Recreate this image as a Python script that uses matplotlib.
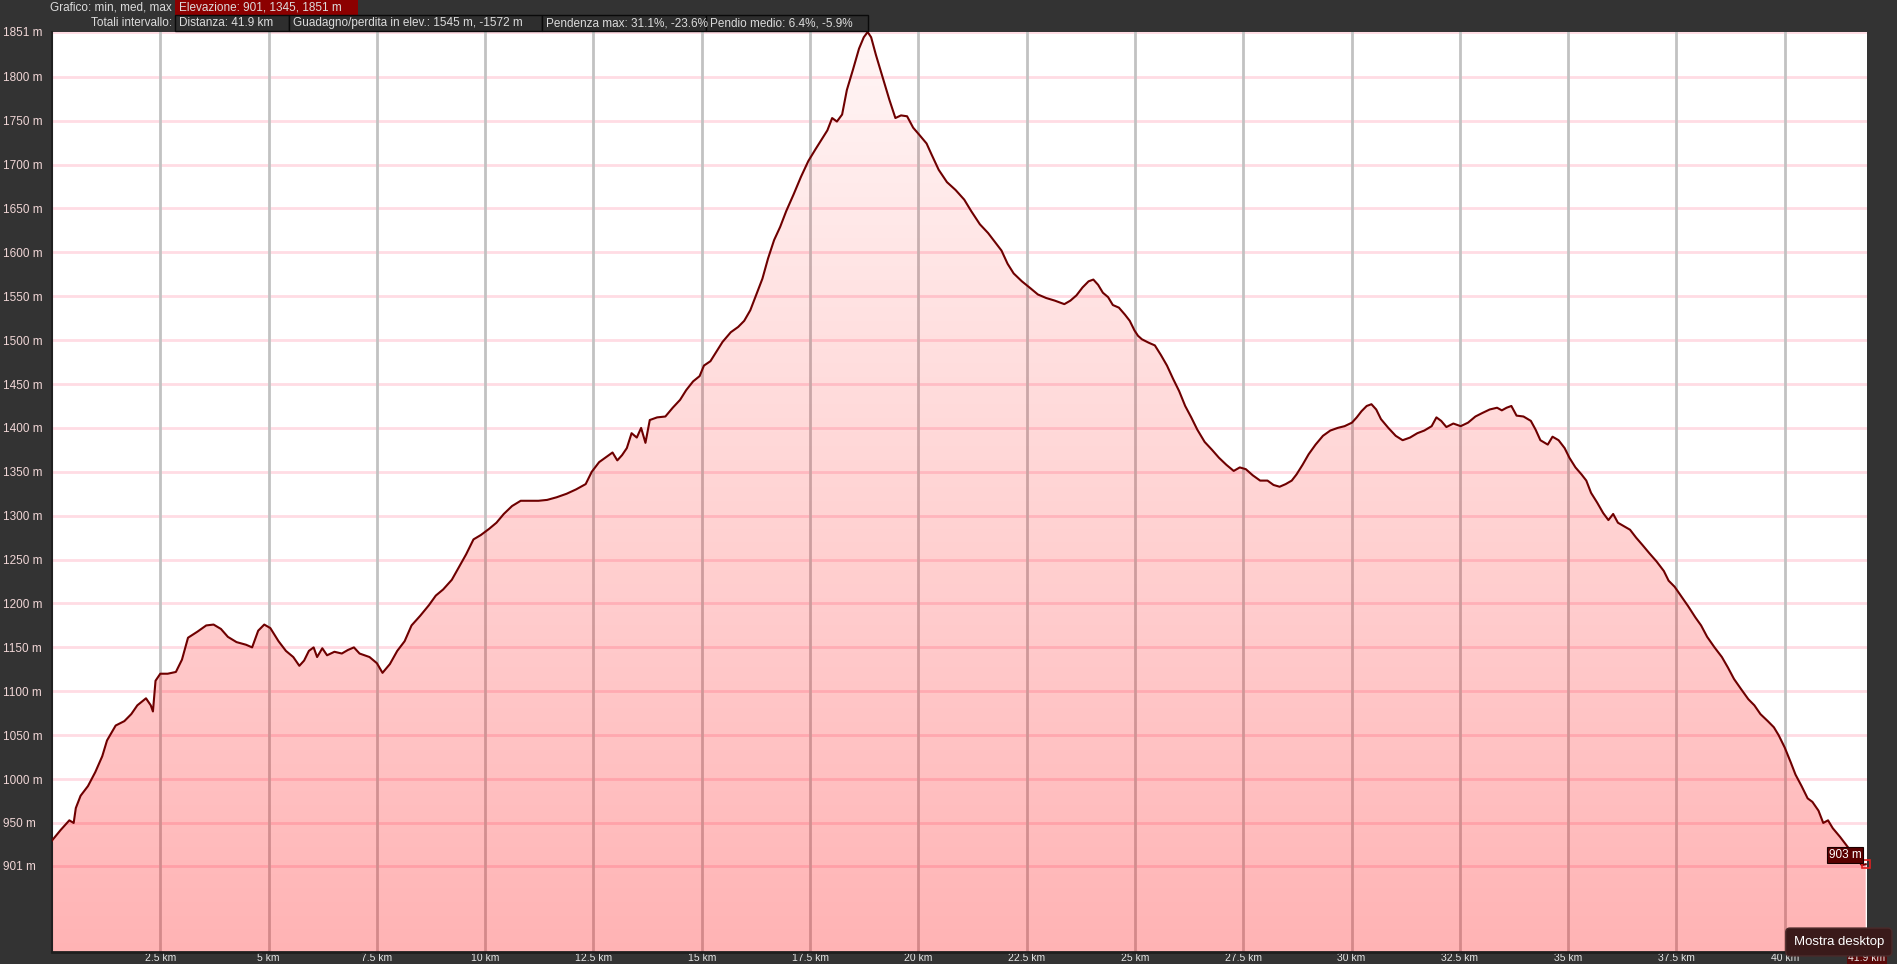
import numpy as np
import matplotlib
matplotlib.use('Agg')
import matplotlib.pyplot as plt
from matplotlib.patches import Polygon, Rectangle

# profilo altimetrico (km, m)
distance_km = [0.0, 0.2, 0.4, 0.5, 0.55, 0.66, 0.83, 1.0, 1.16, 1.27, 1.47, 1.67, 1.83, 1.97, 2.17, 2.28,
               2.33, 2.39, 2.5, 2.67, 2.86, 3.0, 3.14, 3.36, 3.56, 3.73, 3.9, 4.06, 4.26, 4.48, 4.62,
               4.76, 4.9, 5.04, 5.23, 5.4, 5.57, 5.71, 5.82, 5.93, 6.04, 6.12, 6.24, 6.35, 6.52, 6.69,
               6.83, 6.97, 7.1, 7.33, 7.5, 7.63, 7.8, 7.97, 8.14, 8.3, 8.5, 8.7, 8.86, 9.03, 9.23, 9.4,
               9.56, 9.73, 9.9, 10.09, 10.26, 10.43, 10.62, 10.82, 11.04, 11.23, 11.43, 11.65, 11.88,
               12.1, 12.32, 12.46, 12.63, 12.77, 12.94, 13.05, 13.16, 13.27, 13.38, 13.5, 13.6, 13.7,
               13.8, 13.97, 14.16, 14.33, 14.5, 14.64, 14.8, 14.95, 15.05, 15.2, 15.34, 15.48, 15.67,
               15.84, 15.98, 16.12, 16.26, 16.4, 16.53, 16.67, 16.81, 16.95, 17.12, 17.29, 17.46, 17.62,
               17.76, 17.9, 18.01, 18.12, 18.24, 18.35, 18.49, 18.63, 18.74, 18.83, 18.91, 19.02, 19.19,
               19.33, 19.47, 19.6, 19.74, 19.88, 20.02, 20.19, 20.3, 20.47, 20.66, 20.86, 21.06, 21.22,
               21.42, 21.61, 21.78, 21.92, 22.06, 22.2, 22.39, 22.59, 22.76, 22.95, 23.15, 23.37, 23.51,
               23.65, 23.79, 23.93, 24.04, 24.15, 24.26, 24.38, 24.49, 24.63, 24.77, 24.88, 24.99, 25.07,
               25.16, 25.32, 25.46, 25.6, 25.74, 25.88, 26.02, 26.16, 26.3, 26.44, 26.61, 26.78, 26.94,
               27.11, 27.28, 27.42, 27.56, 27.72, 27.89, 28.06, 28.2, 28.34, 28.48, 28.62, 28.73, 28.87,
               29.01, 29.17, 29.34, 29.51, 29.68, 29.84, 30.01, 30.12, 30.23, 30.35, 30.46, 30.57, 30.68,
               30.85, 31.02, 31.18, 31.35, 31.52, 31.68, 31.85, 31.96, 32.07, 32.19, 32.35, 32.52, 32.69,
               32.86, 33.02, 33.19, 33.36, 33.47, 33.58, 33.69, 33.81, 33.97, 34.14, 34.25, 34.36, 34.53,
               34.64, 34.78, 34.92, 35.03, 35.17, 35.31, 35.42, 35.53, 35.67, 35.81, 35.93, 36.04, 36.15,
               36.29, 36.43, 36.57, 36.71, 36.88, 37.04, 37.21, 37.32, 37.46, 37.6, 37.77, 37.94, 38.07,
               38.21, 38.38, 38.55, 38.69, 38.83, 39.0, 39.16, 39.3, 39.44, 39.61, 39.75, 39.86, 40.0,
               40.14, 40.25, 40.39, 40.53, 40.64, 40.78, 40.89, 41.0, 41.11, 41.28, 41.45, 41.62, 41.78,
               41.87]
elevation_m = [930, 942, 953, 950, 967, 981, 992, 1008, 1026, 1044, 1061, 1066, 1074, 1084, 1092, 1084,
               1077, 1112, 1120, 1120, 1122, 1136, 1161, 1168, 1175, 1176, 1171, 1162, 1156, 1153, 1150,
               1169, 1176, 1172, 1157, 1146, 1139, 1129, 1135, 1146, 1150, 1139, 1149, 1141, 1145, 1143,
               1147, 1150, 1143, 1139, 1132, 1121, 1131, 1146, 1157, 1175, 1186, 1198, 1209, 1216, 1227, 1242,
               1256, 1273, 1278, 1285, 1292, 1302, 1311, 1317, 1317, 1317, 1318, 1321, 1325,
               1330, 1336, 1350, 1361, 1366, 1372, 1363, 1369, 1377, 1394, 1389, 1400, 1383,
               1409, 1412, 1413, 1423, 1432, 1443, 1453, 1459, 1471, 1476, 1487, 1498, 1509,
               1515, 1522, 1534, 1552, 1570, 1593, 1614, 1629, 1647, 1666, 1686, 1704, 1717,
               1728, 1739, 1753, 1749, 1757, 1785, 1808, 1832, 1845, 1851, 1845, 1825, 1797,
               1774, 1753, 1756, 1755, 1742, 1734, 1724, 1712, 1694, 1680, 1671, 1660, 1647,
               1632, 1622, 1611, 1602, 1587, 1576, 1567, 1559, 1552, 1548, 1545, 1541, 1545,
               1551, 1560, 1567, 1569, 1563, 1554, 1549, 1540, 1537, 1529, 1522, 1511, 1505,
               1501, 1497, 1494, 1483, 1471, 1456, 1442, 1425, 1412, 1398, 1384, 1375, 1366,
               1358, 1351, 1355, 1353, 1346, 1340, 1340, 1335, 1333, 1336, 1340, 1347, 1358,
               1370, 1381, 1391, 1397, 1400, 1402, 1406, 1412, 1419, 1425, 1427, 1421, 1410,
               1400, 1391, 1386, 1389, 1394, 1397, 1402, 1412, 1408, 1401, 1405, 1402, 1406,
               1413, 1417, 1421, 1423, 1420, 1423, 1425, 1414, 1413, 1408, 1398, 1386, 1381,
               1390, 1386, 1377, 1366, 1355, 1347, 1340, 1326, 1315, 1303, 1295, 1302, 1292,
               1288, 1284, 1275, 1267, 1257, 1248, 1237, 1226, 1219, 1209, 1197, 1184, 1175,
               1162, 1150, 1139, 1127, 1114, 1102, 1091, 1084, 1074, 1066, 1059, 1050, 1036,
               1019, 1005, 992, 978, 974, 964, 950, 953, 944, 934, 923, 912, 902,
               903]

y_ticks = [901, 950, 1000, 1050, 1100, 1150, 1200, 1250, 1300, 1350, 1400, 1450, 1500,
           1550, 1600, 1650, 1700, 1750, 1800, 1851]
x_ticks = [2.5, 5, 7.5, 10, 12.5, 15, 17.5, 20, 22.5, 25, 27.5, 30, 32.5, 35, 37.5, 40, 41.9]
x_labels = ['2.5 km', '5 km', '7.5 km', '10 km', '12.5 km', '15 km', '17.5 km', '20 km', '22.5 km',
            '25 km', '27.5 km', '30 km', '32.5 km', '35 km', '37.5 km', '40 km', '41.9 km']

header_row2 = ['Distanza: 41.9 km', 'Guadagno/perdita in elev.: 1545 m, -1572 m',
               'Pendenza max: 31.1%, -23.6%', 'Pendio medio: 6.4%, -5.9%']

W, H = 1897, 964
BG = '#333333'
plt.rcParams['font.family'] = ['Liberation Sans', 'DejaVu Sans']

fig = plt.figure(figsize=(W / 100, H / 100), dpi=100, facecolor=BG)


def px(x, y):
    # pixel (dall'alto a sinistra) -> frazione della figura
    return x / W, 1 - y / H


left, top, right, bottom = 52, 32, 1867, 952
ax = fig.add_axes([left / W, 1 - bottom / H, (right - left) / W, (bottom - top) / H])
ax.set_facecolor('white')

x_end = distance_km[-1]
y_min, y_max = 803, 1851

# griglia
for yt in y_ticks:
    ax.axhline(yt, color='#ffdce4', lw=2, zorder=1)
for xt in x_ticks[:-1]:
    ax.axvline(xt, color='#c2c2c2', lw=2, zorder=1)

# riempimento con sfumatura
grad = np.zeros((256, 1, 4))
grad[..., 0] = 1.0
grad[..., 1] = 0.0
grad[..., 2] = 0.02
grad[..., 3] = np.linspace(0.30, 0.04, 256)[:, None]
im = ax.imshow(grad, extent=[0, x_end, y_min, y_max], origin='lower', aspect='auto',
               interpolation='bilinear', zorder=2)
verts = [(distance_km[0], y_min)] + list(zip(distance_km, elevation_m)) + [(x_end, y_min)]
clip = Polygon(verts, closed=True, facecolor='none', edgecolor='none')
ax.add_patch(clip)
im.set_clip_path(clip)

ax.plot(distance_km, elevation_m, color='#6e0000', lw=1.5, zorder=3)

# ultimo punto
ax.plot([x_end], [elevation_m[-1]], marker='s', ms=6, mfc='none', mec='#e02020', mew=1.2,
        zorder=4, clip_on=False)
ax.annotate(f'{elevation_m[-1]} m', (x_end, elevation_m[-1]), xytext=(-4, 3),
            textcoords='offset pixels', ha='right', va='bottom', color='white', fontsize=8.5,
            bbox=dict(boxstyle='square,pad=0.15', fc='#5a0000', ec='#1a0000', lw=0.8), zorder=5)

ax.set_xlim(0, x_end)
ax.set_ylim(y_min, y_max)

ax.set_yticks(y_ticks)
ax.set_yticklabels([f'{v} m' for v in y_ticks])
ax.tick_params(axis='y', length=0, pad=49 * 0.72, labelcolor='#f0d6d6', labelsize=8.5)
for lab in ax.get_yticklabels():
    lab.set_ha('left')

ax.set_xticks(x_ticks)
ax.set_xticklabels(x_labels)
ax.tick_params(axis='x', length=0, pad=0.5, labelcolor='#e6e6e6', labelsize=7.5)
last = ax.get_xticklabels()[-1]
last.set_bbox(dict(boxstyle='square,pad=0.1', fc='#5a0a0a', ec='none'))

for s in ['top', 'right']:
    ax.spines[s].set_visible(False)
ax.spines['left'].set_color('#202020')
ax.spines['left'].set_linewidth(1.5)
ax.spines['bottom'].set_color('#1e1e1e')
ax.spines['bottom'].set_linewidth(2)

# intestazione
txt_col = '#dcdcdc'
fs = 8.5
fig.text(*px(172, 7.5), 'Grafico: min, med, max', ha='right', va='center', color=txt_col, fontsize=fs)
x0, y0 = px(175, 15)
fig.add_artist(Rectangle((x0, y0), (358 - 175) / W, 15 / H, transform=fig.transFigure,
                         fc='#8c0000', ec='none'))
fig.text(*px(179, 7.5), 'Elevazione: 901, 1345, 1851 m', ha='left', va='center', color=txt_col,
         fontsize=fs)

fig.text(*px(172, 23), 'Totali intervallo:', ha='right', va='center', color=txt_col, fontsize=fs)
edges = [175, 289, 542, 706, 868]
for i, label in enumerate(header_row2):
    bx0, by0 = px(edges[i], 31)
    fig.add_artist(Rectangle((bx0, by0), (edges[i + 1] - edges[i]) / W, 16 / H,
                             transform=fig.transFigure, fc='#2e2e2e', ec='#0a0a0a', lw=1))
    fig.text(*px(edges[i] + 4, 23), label, ha='left', va='center', color=txt_col, fontsize=fs)

# suggerimento di sistema in basso a destra
fig.text(*px(1884, 942), 'Mostra desktop', ha='right', va='center', color='white', fontsize=9.5,
         bbox=dict(boxstyle='round,pad=0.6,rounding_size=0.3', fc='#3a1a1a', ec='#4a2a2a'))

fig.savefig('out.png', dpi=100, facecolor=BG)
